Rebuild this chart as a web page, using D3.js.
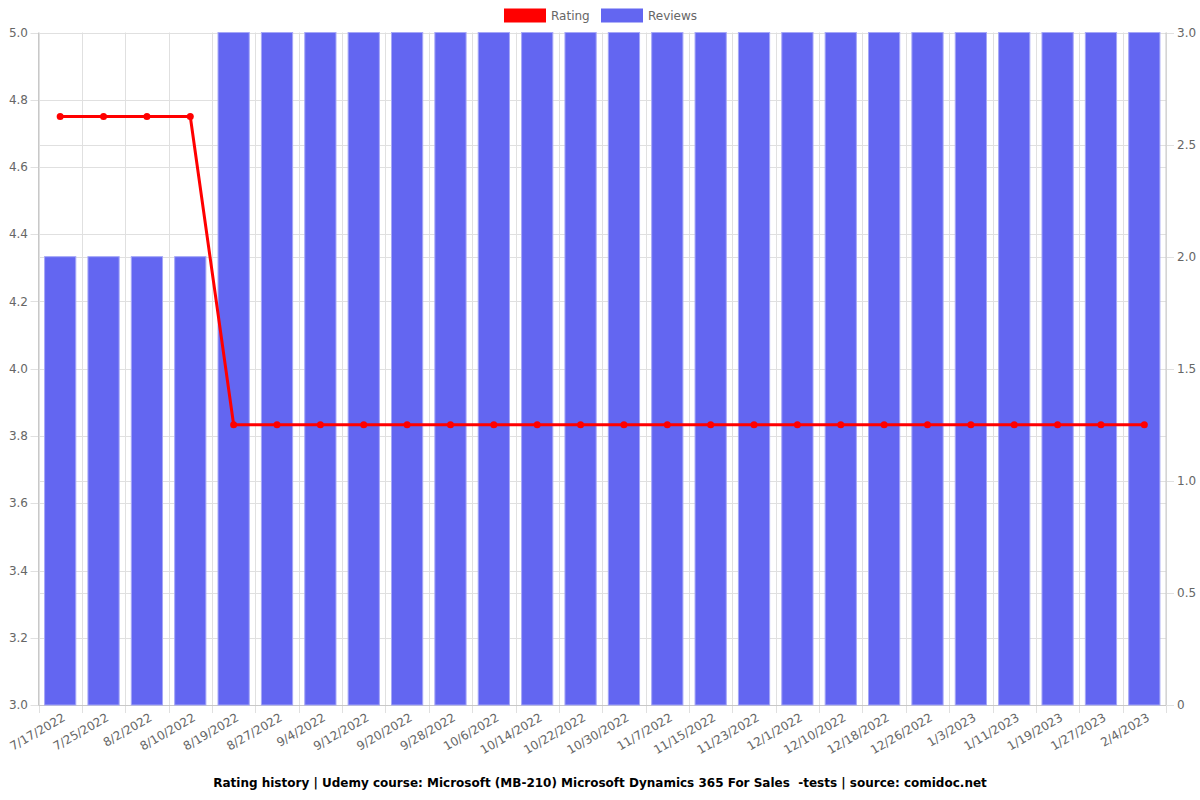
<!DOCTYPE html>
<html>
<head>
<meta charset="utf-8">
<script src="https://cdn.jsdelivr.net/npm/d3@7"></script>
<style>
  body { margin: 0; background: #fff; }
  text { font-family: "DejaVu Sans", sans-serif; }
</style>
</head>
<body>
<script>
// data
var dates = ["7/17/2022","7/25/2022","8/2/2022","8/10/2022","8/19/2022","8/27/2022","9/4/2022",
  "9/12/2022","9/20/2022","9/28/2022","10/6/2022","10/14/2022","10/22/2022","10/30/2022",
  "11/7/2022","11/15/2022","11/23/2022","12/1/2022","12/10/2022","12/18/2022","12/26/2022",
  "1/3/2023","1/11/2023","1/19/2023","1/27/2023","2/4/2023"];
var rating = [4.75,4.75,4.75,4.75,3.8333,3.8333,3.8333,3.8333,3.8333,3.8333,3.8333,3.8333,3.8333,
  3.8333,3.8333,3.8333,3.8333,3.8333,3.8333,3.8333,3.8333,3.8333,3.8333,3.8333,3.8333,3.8333];
var reviews = [2,2,2,2,3,3,3,3,3,3,3,3,3,3,3,3,3,3,3,3,3,3,3,3,3,3];
var leftTicks = [3.0,3.2,3.4,3.6,3.8,4.0,4.2,4.4,4.6,4.8,5.0];
var rightTicks = [0,0.5,1.0,1.5,2.0,2.5,3.0];

var w = 1200,
    h = 800,
    plotLeft = 38.5,
    plotRight = 1166,
    plotTop = 32.5,
    plotBottom = 705;

var svg = d3.select("body").append("svg")
    .attr("width", w)
    .attr("height", h);

var x = d3.scaleBand().domain(dates).range([plotLeft, plotRight]);
var yL = d3.scaleLinear().domain([3, 5]).range([plotBottom, plotTop]);
var yR = d3.scaleLinear().domain([0, 3]).range([plotBottom, plotTop]);

var grid = svg.append("g").attr("stroke", "#e0e0e0").attr("stroke-width", 1);

// vertical gridlines at band edges
grid.selectAll(".vg")
    .data(dates.concat(["end"]))
    .enter().append("line")
    .attr("x1", (d, i) => Math.round(plotLeft + i * x.step()) + 0.5)
    .attr("x2", (d, i) => Math.round(plotLeft + i * x.step()) + 0.5)
    .attr("y1", plotTop)
    .attr("y2", plotBottom + 8);

// left gridlines + ticks
grid.selectAll(".lg")
    .data(leftTicks)
    .enter().append("line")
    .attr("x1", plotLeft - 8).attr("x2", plotRight)
    .attr("y1", d => Math.round(yL(d)) + 0.5)
    .attr("y2", d => Math.round(yL(d)) + 0.5);

// right gridlines + ticks
grid.selectAll(".rg")
    .data(rightTicks)
    .enter().append("line")
    .attr("x1", plotLeft).attr("x2", plotRight + 8)
    .attr("y1", d => Math.round(yR(d)) + 0.5)
    .attr("y2", d => Math.round(yR(d)) + 0.5);

// axis borders
svg.append("line").attr("x1", plotLeft).attr("x2", plotLeft).attr("y1", plotTop).attr("y2", plotBottom)
    .attr("stroke", "#c8c8c8");
svg.append("line").attr("x1", plotRight).attr("x2", plotRight).attr("y1", plotTop).attr("y2", plotBottom)
    .attr("stroke", "#c8c8c8");
svg.append("line").attr("x1", plotLeft).attr("x2", plotRight).attr("y1", plotBottom + 0.5).attr("y2", plotBottom + 0.5)
    .attr("stroke", "#c8c8c8");

// bars
var barW = x.bandwidth() * 0.72;
svg.selectAll(".bar")
    .data(reviews)
    .enter().append("rect")
    .attr("x", (d, i) => x(dates[i]) + (x.bandwidth() - barW) / 2)
    .attr("y", d => yR(d))
    .attr("width", barW)
    .attr("height", d => plotBottom - yR(d))
    .attr("fill", "#6366f1")
    .attr("stroke", "#a5a7f7")
    .attr("stroke-width", 1);

// rating line
var line = d3.line()
    .x((d, i) => x(dates[i]) + x.bandwidth() / 2)
    .y(d => yL(d));

svg.append("path")
    .datum(rating)
    .attr("d", line)
    .attr("fill", "none")
    .attr("stroke", "#ff0000")
    .attr("stroke-width", 3);

svg.selectAll(".pt")
    .data(rating)
    .enter().append("circle")
    .attr("cx", (d, i) => x(dates[i]) + x.bandwidth() / 2)
    .attr("cy", d => yL(d))
    .attr("r", 3.5)
    .attr("fill", "#ff0000");

// left labels
svg.selectAll(".ll")
    .data(leftTicks)
    .enter().append("text")
    .attr("x", 28)
    .attr("y", d => yL(d) + 4)
    .attr("text-anchor", "end")
    .attr("font-size", 12)
    .attr("fill", "#666")
    .text(d => d.toFixed(1));

// right labels
svg.selectAll(".rl")
    .data(rightTicks)
    .enter().append("text")
    .attr("x", 1177)
    .attr("y", d => yR(d) + 4)
    .attr("font-size", 12)
    .attr("fill", "#666")
    .text(d => d === 0 ? "0" : d.toFixed(1));

// x labels
svg.selectAll(".xl")
    .data(dates)
    .enter().append("text")
    .attr("transform", d => "translate(" + (x(d) + x.bandwidth() / 2 + 6) + "," + (plotBottom + 15) + ") rotate(-30)")
    .attr("text-anchor", "end")
    .attr("font-size", 12)
    .attr("fill", "#666")
    .text(d => d);

// legend
var legend = [{name: "Rating", color: "#ff0000", x: 504}, {name: "Reviews", color: "#6366f1", x: 601}];
var lg = svg.selectAll(".leg").data(legend).enter().append("g");
lg.append("rect")
    .attr("x", d => d.x).attr("y", 8.5)
    .attr("width", 42).attr("height", 14)
    .attr("fill", d => d.color);
lg.append("text")
    .attr("x", d => d.x + 47).attr("y", 20)
    .attr("font-size", 12)
    .attr("fill", "#666")
    .text(d => d.name);

// title
svg.append("text")
    .attr("x", 600)
    .attr("y", 787)
    .attr("text-anchor", "middle")
    .attr("font-size", 12)
    .attr("font-weight", "bold")
    .attr("fill", "#000")
    .style("white-space", "pre")
    .text("Rating history | Udemy course: Microsoft (MB-210) Microsoft Dynamics 365 For Sales  -tests | source: comidoc.net");
</script>
</body>
</html>
